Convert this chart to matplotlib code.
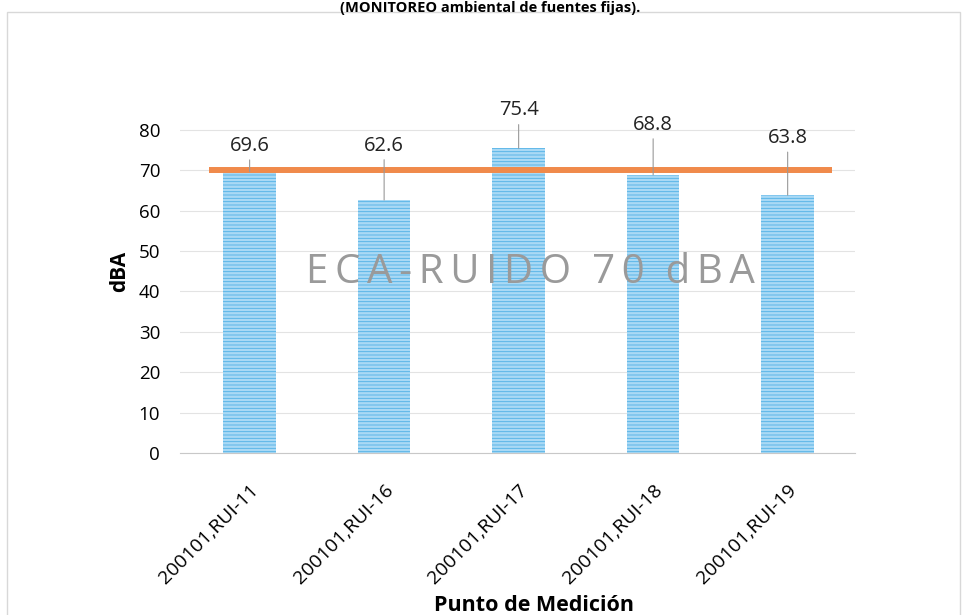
import matplotlib.pyplot as plt
from matplotlib.patches import Rectangle

# data
points = ["200101,RUI-11", "200101,RUI-16", "200101,RUI-17", "200101,RUI-18", "200101,RUI-19"]
levels = [69.6, 62.6, 75.4, 68.8, 63.8]
eca_limit = 70
yticks = [0, 10, 20, 30, 40, 50, 60, 70, 80]

# label offsets above the bar tops (points)
label_offsets = [11.5, 32, 20, 29, 34]

plt.rcParams["font.family"] = ["Open Sans", "DejaVu Sans"]
plt.rcParams["hatch.linewidth"] = 0.6

fig = plt.figure(figsize=(9.66, 6.15), dpi=100)
ax = fig.add_axes([0.186, 0.263, 0.699, 0.592])

x = list(range(len(points)))
ax.bar(x, levels, width=0.39, color="#a9d9f5", edgecolor="#4fb0e6",
       hatch="-----", linewidth=0, zorder=2)

ax.hlines(eca_limit, -0.3, len(points) - 1 + 0.33, color="#f08a4b", lw=4.3, zorder=3)

for xi, v, off in zip(x, levels, label_offsets):
    ax.annotate(f"{v}", xy=(xi, v), xytext=(0, off), textcoords="offset points",
                ha="center", va="bottom", fontsize=14.5, color="#222222",
                annotation_clip=False,
                arrowprops=dict(arrowstyle="-", color="#999999", lw=0.8,
                                shrinkA=1, shrinkB=0))

wm = "\u2009".join("ECA-RUIDO") + "  " + "\u2009".join("70") + "  " + "\u2009".join("dBA")
ax.text(0.52, 0.497, wm, transform=ax.transAxes,
        ha="center", va="center", fontsize=29, color="#9a9a9a", zorder=5)

ax.set_xlim(-0.52, len(points) - 1 + 0.5)
ax.set_ylim(0, 90)
ax.set_yticks(yticks)
ax.set_xticks(x)
ax.set_xticklabels(points, rotation=45, ha="right", rotation_mode="anchor", fontsize=14)
ax.tick_params(axis="y", length=0, pad=14, labelsize=13.5)
ax.tick_params(axis="x", length=0, pad=20)
ax.grid(axis="y", color="#e3e3e3", lw=0.8, zorder=0)
for s in ["top", "right", "left"]:
    ax.spines[s].set_visible(False)
ax.spines["bottom"].set_color("#c8c8c8")

ax.set_ylabel("dBA", fontsize=15, fontweight="bold", labelpad=6)
ax.set_xlabel("Punto de Medición", fontsize=15.5, fontweight="bold")
ax.xaxis.set_label_coords(0.525, -0.39)

# title, cut by the scan edge in the reference
fig.text(0.507, 0.998, "(MONITOREO ambiental de fuentes fijas).", ha="center", va="top",
         fontsize=10.5, fontweight="bold")

fig.patches.append(Rectangle((0.007, -0.01), 0.987, 0.99, transform=fig.transFigure,
                             fill=False, edgecolor="#d8d8d8", lw=1))

fig.savefig("out.png", dpi=100)
